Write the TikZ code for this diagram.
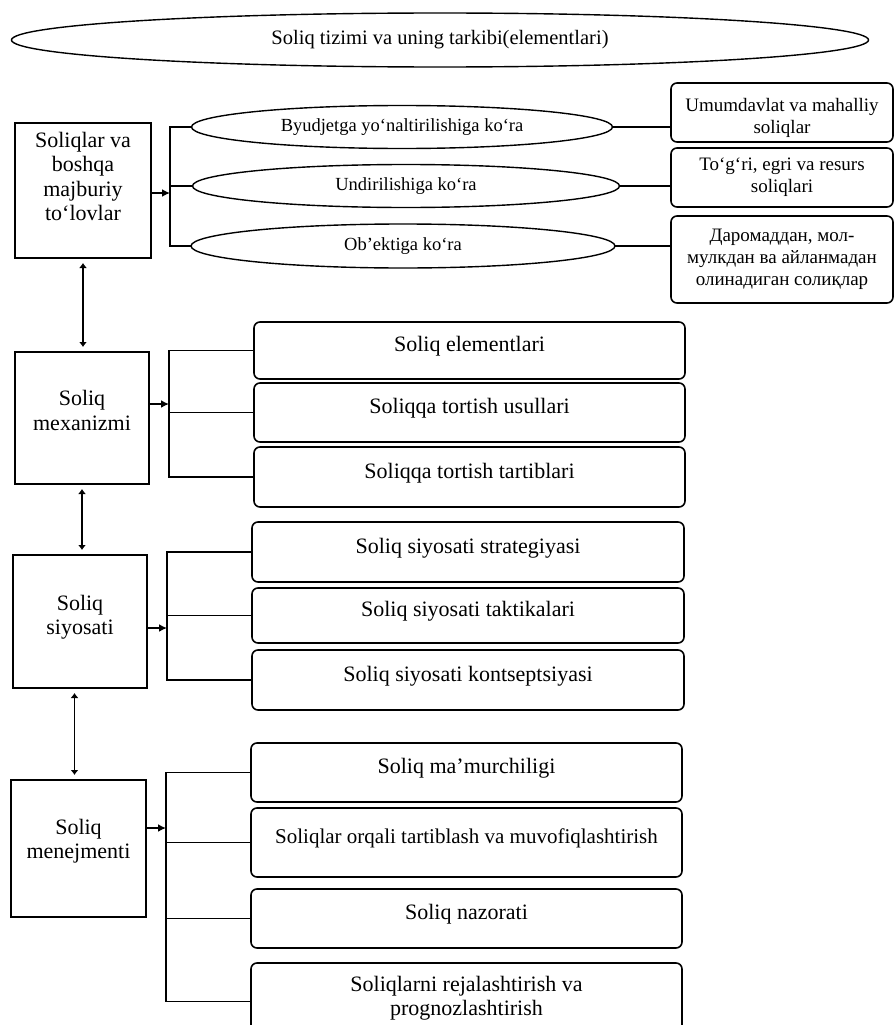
\documentclass[tikz,border=0pt]{standalone}
\usepackage{fontspec}
\setmainfont{Liberation Serif}
\usetikzlibrary{shapes.geometric,arrows.meta}
\begin{document}
\begin{tikzpicture}[x=1pt,y=-1pt,
  every node/.style={inner sep=0pt, outer sep=0pt},
  lw/.style={line width=1.6pt},
  lbox/.style={draw, lw},
  ltext/.style={align=center, font=\fontsize{22}{24.5}\selectfont},
  ltexta/.style={align=center, font=\fontsize{22}{24.5}\selectfont},
  ell/.style={draw, ellipse, line width=1.4pt, font=\fontsize{18.5}{22}\selectfont},
  rbox/.style={draw, lw, rounded corners=6pt, align=center},
  rboxa/.style={rbox, minimum width=222pt, font=\fontsize{19}{22}\selectfont},
  rtexta/.style={align=center, font=\fontsize{19}{22}\selectfont},
  rboxb/.style={rbox, font=\fontsize{22}{24.5}\selectfont, text height=15.5pt, text depth=13.5pt},
  brk/.style={lw},
  harr/.style={lw, -{Latex[length=8pt,width=8pt]}},
  biarr/.style={lw, {Latex[length=5pt,width=8pt]}-{Latex[length=5pt,width=8pt]}, shorten <=5pt, shorten >=5pt}
]
\useasboundingbox (0,0) rectangle (895,1025);
\clip (0,0) rectangle (895,1025);

% title
\node[ell, minimum width=857pt, minimum height=54pt, font=\fontsize{20.5}{24}\selectfont] (top) at (440,40) {Soliq tizimi va uning tarkibi(elementlari)};

% ---------- section 1
\node[lbox, minimum width=136pt, minimum height=135pt,
  label={[ltexta, yshift=14pt]center:{Soliqlar va\\boshqa\\majburiy\\to‘lovlar}}] (b1) at (83,190.5) {};
\node[ell, minimum width=421pt, minimum height=43pt] (e1) at (402,127) {Byudjetga yo‘naltirilishiga ko‘ra};
\node[ell, minimum width=427pt, minimum height=43pt] (e2) at (406,186) {Undirilishiga ko‘ra};
\node[ell, minimum width=424pt, minimum height=44pt] (e3) at (403,246) {Ob’ektiga ko‘ra};
\node[rboxa, minimum height=59pt,
  label={[rtexta, yshift=-5pt]center:{Umumdavlat va mahalliy\\soliqlar}}] (r1) at (782,112.5) {};
\node[rboxa, minimum height=59pt] (r2) at (782,177.5) {To‘g‘ri, egri va resurs\\soliqlari};
\node[rboxa, minimum height=87pt] (r3) at (782,259.5) {Даромаддан, мол-\\мулкдан ва айланмадан\\олинадиган солиқлар};
\coordinate (k1) at (170,0);
\draw[brk] (e1.west) -- (e1.west -| k1) -- (e3.west -| k1) -- (e3.west);
\draw[brk] (e2.west -| k1) -- (e2.west);
\draw[harr] ([yshift=-2.5pt]b1.east) -- ([yshift=-2.5pt]b1.east -| k1);
\draw[lw] (e1.east) -- (e1.east -| r1.west);
\draw[lw] (e2.east) -- (e2.east -| r2.west);
\draw[lw] (e3.east) -- (e3.east -| r3.west);

% ---------- section 2
\node[lbox, minimum width=134pt, minimum height=132pt,
  label={[ltext, yshift=7.5pt]center:{Soliq\\mexanizmi}}] (b2) at (82,418) {};
\node[rboxb, minimum width=431pt, minimum height=57pt] (s1) at (469.5,350.5) {Soliq elementlari};
\node[rboxb, minimum width=431pt, minimum height=59pt] (s2) at (469.5,412.5) {Soliqqa tortish usullari};
\node[rboxb, minimum width=431pt, minimum height=60pt] (s3) at (469.5,477) {Soliqqa tortish tartiblari};
\coordinate (k2) at (169,0);
\draw[brk] (s1.west) -- (s1.west -| k2) -- (s3.west -| k2) -- (s3.west);
\draw[brk] (s2.west -| k2) -- (s2.west);
\draw[harr] ([yshift=14pt]b2.east) -- ([yshift=14pt]b2.east -| k2);

% ---------- section 3
\node[lbox, minimum width=134pt, minimum height=133pt,
  label={[ltext, yshift=4.5pt]center:{Soliq\\siyosati}}] (b3) at (80,621.5) {};
\node[rboxb, minimum width=432pt, minimum height=60pt] (p1) at (468,552) {Soliq siyosati strategiyasi};
\node[rboxb, minimum width=432pt, minimum height=55pt] (p2) at (468,615.5) {Soliq siyosati taktikalari};
\node[rboxb, minimum width=432pt, minimum height=60pt] (p3) at (468,680) {Soliq siyosati kontseptsiyasi};
\coordinate (k3) at (167,0);
\draw[brk] (p1.west) -- (p1.west -| k3) -- (p3.west -| k3) -- (p3.west);
\draw[brk] (p2.west -| k3) -- (p2.west);
\draw[harr] ([yshift=-6.5pt]b3.east) -- ([yshift=-6.5pt]b3.east -| k3);

% ---------- section 4
\node[lbox, minimum width=135pt, minimum height=137pt,
  label={[ltext, yshift=7.5pt]center:{Soliq\\menejmenti}}] (b4) at (78.5,848.5) {};
\node[rboxb, minimum width=431pt, minimum height=59pt] (m1) at (466.5,772.5) {Soliq ma’murchiligi};
\node[rboxb, minimum width=431pt, minimum height=69pt, font=\fontsize{21}{24}\selectfont] (m2) at (466.5,842.5) {Soliqlar orqali tartiblash va muvofiqlashtirish};
\node[rboxb, minimum width=431pt, minimum height=59pt] (m3) at (466.5,918.5) {Soliq nazorati};
\node[rbox, minimum width=431pt, minimum height=77pt,
  label={[ltext, yshift=3.5pt]center:{Soliqlarni rejalashtirish va\\prognozlashtirish}}] (m4) at (466.5,1001.5) {};
\coordinate (k4) at (166,0);
\draw[brk] (m1.west) -- (m1.west -| k4) -- (m4.west -| k4) -- (m4.west);
\draw[brk] (m2.west -| k4) -- (m2.west);
\draw[brk] (m3.west -| k4) -- (m3.west);
\draw[harr] ([yshift=20.5pt]b4.east) -- ([yshift=20.5pt]b4.east -| k4);

% ---------- vertical links
\draw[biarr] (b1.south) -- (b1.south |- b2.north);
\draw[biarr] (b2.south) -- (b2.south |- b3.north);
\draw[biarr] ([xshift=-5.5pt]b3.south) -- ([xshift=-5.5pt]b3.south |- b4.north);
\end{tikzpicture}
\end{document}
